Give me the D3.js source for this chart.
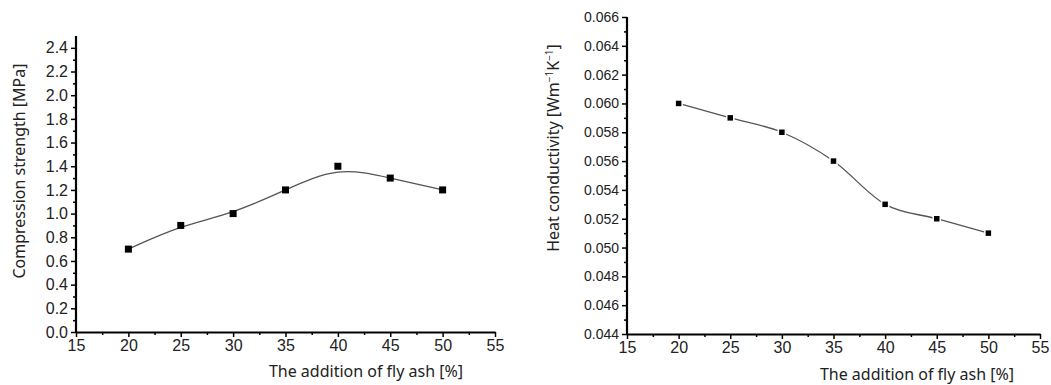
<!DOCTYPE html>
<html>
<head>
<meta charset="utf-8">
<script src="https://cdn.jsdelivr.net/npm/d3@7"></script>
<style>
  body { margin: 0; background: #fff; }
  svg { display: block; font-family: "Noto Sans", "Open Sans", sans-serif; }
</style>
</head>
<body>
<div class="chart"></div>
<script>
// fly ash addition [%]
const flyAsh = [20, 25, 30, 35, 40, 45, 50];
const strength = [0.7, 0.9, 1.0, 1.2, 1.4, 1.3, 1.2];
const conductivity = [0.060, 0.059, 0.058, 0.056, 0.053, 0.052, 0.051];

const xTicks = [15, 20, 25, 30, 35, 40, 45, 50, 55];
const strengthTicks = [0.0, 0.2, 0.4, 0.6, 0.8, 1.0, 1.2, 1.4, 1.6, 1.8, 2.0, 2.2, 2.4];
const condTicks = [0.044, 0.046, 0.048, 0.050, 0.052, 0.054, 0.056, 0.058, 0.060, 0.062, 0.064, 0.066];

const svg = d3.select('.chart')
  .append('svg')
  .attr('width', 1051)
  .attr('height', 385);

function drawPanel(opt) {
  const g = svg.append('g');
  const x = d3.scaleLinear().domain([15, 55]).range([opt.left, opt.right]);
  const y = d3.scaleLinear().domain(opt.yDomain).range([opt.bottom, opt.top]);

  // minor ticks
  const xMinor = d3.range(17.5, 55, 5);
  g.append('g')
    .attr('transform', `translate(0,${opt.bottom})`)
    .call(d3.axisBottom(x).tickValues(xMinor).tickSize(3).tickFormat(''))
    .call(a => a.select('.domain').remove());
  g.append('g')
    .attr('transform', `translate(${opt.left},0)`)
    .call(d3.axisLeft(y).tickValues(opt.yMinor).tickSize(3).tickFormat(''))
    .call(a => a.select('.domain').remove());

  // major axes
  const xa = g.append('g')
    .attr('transform', `translate(0,${opt.bottom})`)
    .call(d3.axisBottom(x).tickValues(xTicks).tickSize(5).tickSizeOuter(0).tickPadding(3));
  xa.selectAll('text').attr('font-size', 16).attr('fill', '#222');

  const ya = g.append('g')
    .attr('transform', `translate(${opt.left},0)`)
    .call(d3.axisLeft(y).tickValues(opt.yTicks).tickSize(5).tickSizeOuter(0).tickPadding(3)
      .tickFormat(d3.format(opt.yFmt)));
  ya.selectAll('text').attr('font-size', opt.yFont).attr('fill', '#222');
  ya.select('.domain').attr('d', `M0,${y(opt.yDomain[1])}V${opt.bottom}`);

  g.selectAll('.domain').attr('stroke', '#000').attr('stroke-width', 2.2);
  g.selectAll('.tick line').attr('stroke', '#000').attr('stroke-width', 1.5);

  // line
  const line = d3.line()
    .x((d, i) => x(flyAsh[i]))
    .y(d => y(d))
    .curve(opt.curve);
  g.append('path')
    .datum(opt.values)
    .attr('fill', 'none')
    .attr('stroke', '#555')
    .attr('stroke-width', 1.3)
    .attr('d', line);

  g.selectAll('rect.pt')
    .data(opt.values)
    .enter()
    .append('rect')
    .attr('x', (d, i) => x(flyAsh[i]) - 3.5)
    .attr('y', d => y(d) - 3.5)
    .attr('width', 7)
    .attr('height', 7)
    .attr('fill', '#000')
    .attr('stroke', opt.ptStroke)
    .attr('stroke-width', 1.5);

  // labels
  g.append('text')
    .attr('x', opt.xLabelX)
    .attr('y', opt.xLabelY)
    .attr('text-anchor', 'middle')
    .attr('font-size', 16)
    .attr('fill', '#222')
    .text('The addition of fly ash [%]');

  const yl = g.append('text')
    .attr('transform', `translate(${opt.yLabelX},${opt.yLabelY}) rotate(-90)`)
    .attr('text-anchor', 'middle')
    .attr('font-size', 16)
    .attr('fill', '#222');
  opt.yLabel(yl);
}

drawPanel({
  left: 76, right: 495, top: 36, bottom: 332,
  yDomain: [0, 2.5],
  yTicks: strengthTicks,
  yMinor: d3.range(0.1, 2.5, 0.2),
  yFmt: '.1f', yFont: 16,
  values: strength,
  curve: d3.curveBasis,
  ptStroke: 'none',
  xLabelX: 366, xLabelY: 377,
  yLabelX: 25, yLabelY: 171,
  yLabel: t => t.text('Compression strength [MPa]')
});

drawPanel({
  left: 627, right: 1040, top: 17, bottom: 334,
  yDomain: [0.044, 0.066],
  yTicks: condTicks,
  yMinor: d3.range(0.045, 0.066, 0.002),
  yFmt: '.3f', yFont: 14,
  values: conductivity,
  curve: d3.curveMonotoneX,
  ptStroke: '#fff',
  xLabelX: 917, xLabelY: 380,
  yLabelX: 559, yLabelY: 148,
  yLabel: t => {
    t.append('tspan').text('Heat conductivity [Wm');
    t.append('tspan').attr('dy', -6).attr('font-size', 10).text('\u22121');
    t.append('tspan').attr('dy', 6).text('K');
    t.append('tspan').attr('dy', -6).attr('font-size', 10).text('\u22121');
    t.append('tspan').attr('dy', 6).text(']');
  }
});
</script>
</body>
</html>
